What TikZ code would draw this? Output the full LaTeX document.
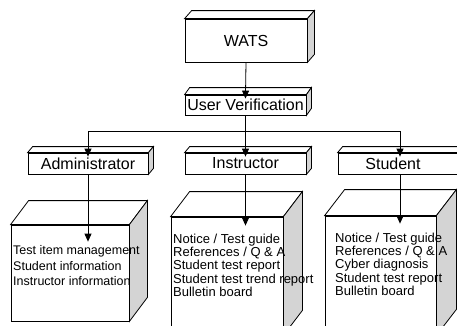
\documentclass[tikz,border=0pt]{standalone}
\usepackage{fontspec}
\setmainfont{Liberation Sans}
\usetikzlibrary{arrows.meta}
\definecolor{sidegray}{RGB}{212,212,212}
\newcommand{\cubesides}[3]{%
  \path (#1.north west) ++(#2,-#3) coordinate (#1-bnw)
        (#1.north east) ++(#2,-#3) coordinate (#1-bne)
        (#1.south east) ++(#2,-#3) coordinate (#1-bse);
  \draw[edge, fill=white] (#1.north west) -- (#1-bnw) -- (#1-bne) -- (#1.north east) -- cycle;
  \draw[edge, fill=sidegray] (#1.north east) -- (#1-bne) -- (#1-bse) -- (#1.south east) -- cycle;}
\begin{document}
\begin{tikzpicture}[x=1pt,y=-1pt,
  edge/.style={line width=0.8pt, line join=miter},
  face/.style={edge, draw, fill=white, inner sep=0pt, font=\fontsize{16}{19}\selectfont},
  arr/.style={edge, -{Triangle[length=8pt,width=7pt]}},
  itemtext/.style={inner sep=0pt, align=left, anchor=north west, font=\fontsize{13}{13.4}\selectfont}]
\clip (0,0) rectangle (457,325);
\fill[white] (0,0) rectangle (457,325);
% top boxes
\node[face, minimum width=122pt, minimum height=43pt] (wats) at (246,40.5) {WATS};
\cubesides{wats}{7}{8}
\node[face, minimum width=121pt, minimum height=20pt] (uv) at (245.5,105) {User Verification};
\cubesides{uv}{5}{7}
\node[face, minimum width=120pt, minimum height=21pt] (adm) at (88,163.5) {Administrator};
\cubesides{adm}{5}{6}
\node[face, minimum width=121pt, minimum height=21pt] (ins) at (245.5,163.5) {Instructor};
\cubesides{ins}{5}{6}
\node[face, minimum width=124pt, minimum height=21pt] (stu) at (400,163.5) {};
\cubesides{stu}{5}{6}
\node[inner sep=0pt, font=\fontsize{16}{19}\selectfont] (stulabel) at (393,163.5) {Student};
% big boxes
\node[face, minimum width=118pt, minimum height=96pt] (admbig) at (70,273) {};
\cubesides{admbig}{18}{24}
\node[face, minimum width=112pt, minimum height=118pt] (insbig) at (227,276) {};
\cubesides{insbig}{19}{25}
\node[face, minimum width=111pt, minimum height=119pt] (stubig) at (380.5,275.5) {};
\cubesides{stubig}{20}{26}
% texts
\node[itemtext, font=\fontsize{12.5}{15.6}\selectfont] (admtext) at (13,245.5) {Test item management\\Student information\\Instructor information};
\node[itemtext] (instext) at (173,233.5) {Notice / Test guide\\References / Q \& A\\Student test report\\Student test trend report\\Bulletin board};
\node[itemtext] (stutext) at (335,232.5) {Notice / Test guide\\References / Q \& A\\Cyber diagnosis\\Student test report\\Bulletin board};
% connectors
\coordinate (busy) at (0,131);
\draw[arr, shorten >=-4pt] (wats.south) -- (uv.north);
\draw[edge] (adm.north |- busy) -- (stu.north |- busy);
\draw[arr, shorten >=-4pt] (uv.south) -- (ins.north);
\draw[arr, shorten >=-4pt] (adm.north |- busy) -- (adm.north);
\draw[arr, shorten >=-4pt] (stu.north |- busy) -- (stu.north);
\draw[arr, shorten >=-17pt] (adm.south) -- (adm.south |- admbig.north);
\draw[arr, shorten >=-9pt] (ins.south) -- (ins.south |- insbig.north);
\draw[arr, shorten >=-8pt] (stu.south) -- (stu.south |- stubig.north);
\end{tikzpicture}
\end{document}
